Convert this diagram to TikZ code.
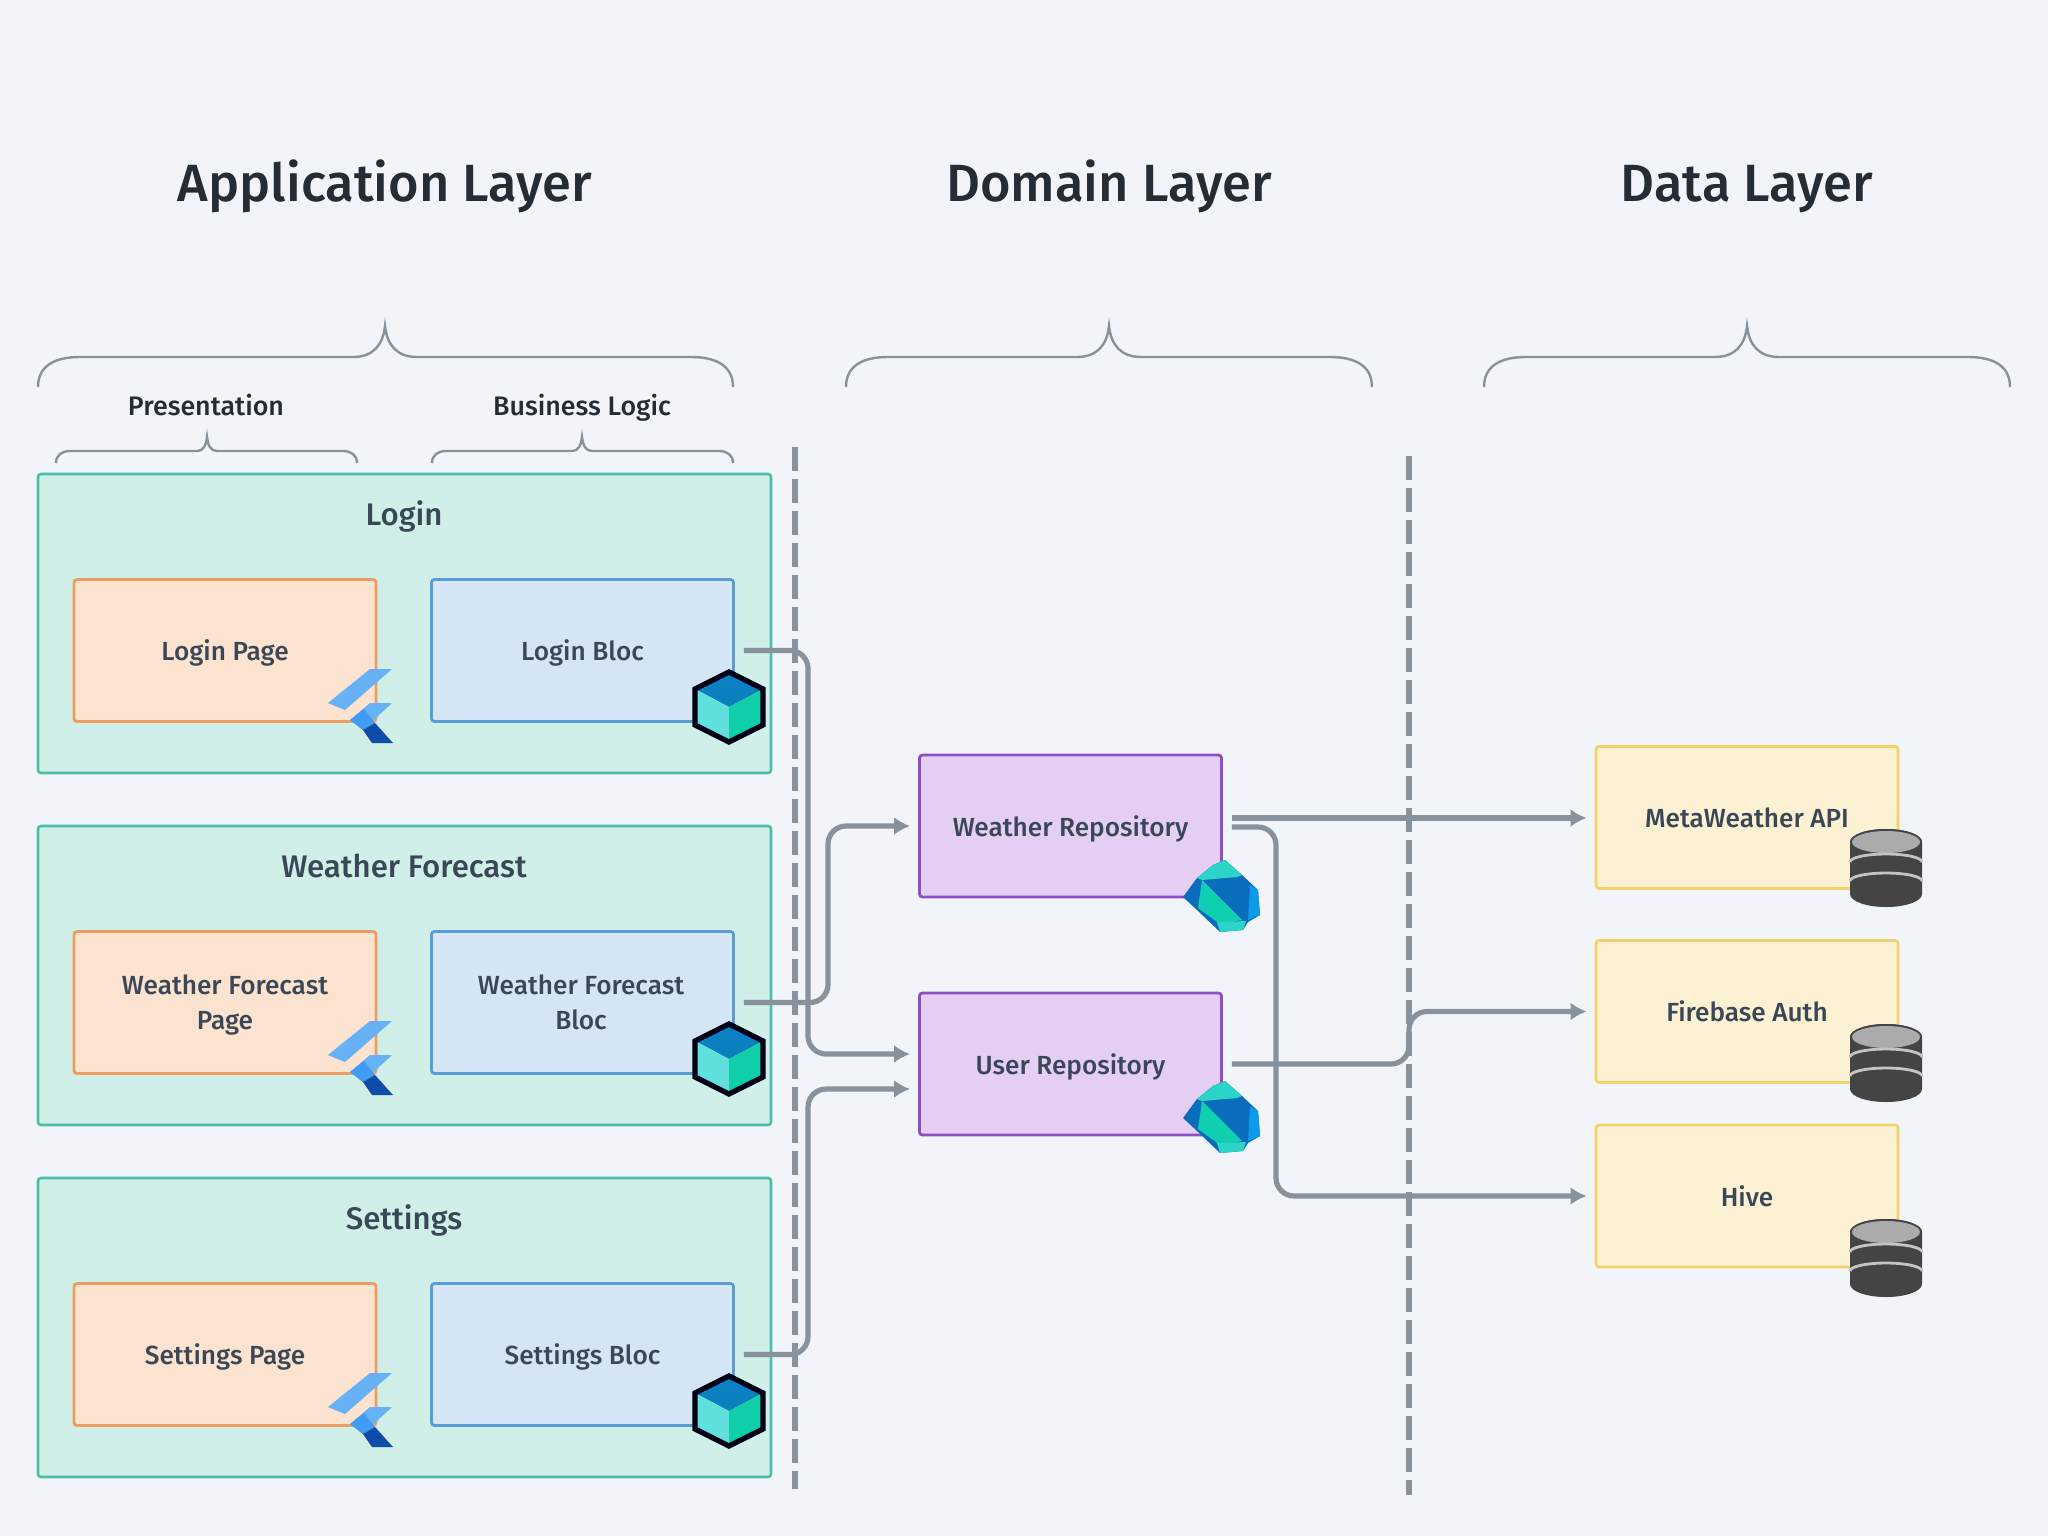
\documentclass[tikz,border=0pt]{standalone}
\usepackage{fontspec}
\setmainfont{Fira Sans Medium}
\usetikzlibrary{arrows.meta,calc}
\definecolor{bg}{HTML}{F1F5F9}
\definecolor{teal}{HTML}{CFEFE8}
\definecolor{tealb}{HTML}{4DBDA9}
\definecolor{orf}{HTML}{FCE3CF}
\definecolor{orb}{HTML}{EE9C5F}
\definecolor{blf}{HTML}{D4E5F4}
\definecolor{blb}{HTML}{5B9BD5}
\definecolor{puf}{HTML}{E5CEF3}
\definecolor{pub}{HTML}{8E4EC6}
\definecolor{yef}{HTML}{FDF1D3}
\definecolor{yeb}{HTML}{F2D36B}
\definecolor{conn}{HTML}{87929D}
\definecolor{ink}{HTML}{3A4756}
\definecolor{headc}{HTML}{242C36}
\definecolor{FL}{HTML}{66B2F5}
\definecolor{FM}{HTML}{3F9CF0}
\definecolor{FD}{HTML}{0F4BA8}
\definecolor{CT}{HTML}{0A80C0}
\definecolor{CL}{HTML}{5FE0DC}
\definecolor{CR}{HTML}{10CFA8}
\definecolor{DD}{HTML}{0A6CBC}
\definecolor{DT}{HTML}{2AD4C6}
\definecolor{DB}{HTML}{0C9BE8}
\definecolor{DG}{HTML}{10CFB0}
\definecolor{DK}{HTML}{444444}
\definecolor{DG2}{HTML}{ABABAB}
\definecolor{DL}{HTML}{C4C4C4}
\tikzset{
  x=0.5pt,y=-0.5pt,
  sturdy/.style={execute at begin node=\strut,execute at end node=\strut},
  boxfont/.style={align=center,text=ink,font=\fontsize{13.1}{17.6}\selectfont},
  box/.style={execute at begin node={\rule{0pt}{15.6pt}},execute at end node=\strut,draw,line width=1.4pt,rounded corners=1.5pt,minimum width=151pt,minimum height=71pt,inner sep=0pt,boxfont},
  twolines/.style={sturdy,inner sep=0pt,boxfont},
  lay/.style={draw=tealb,fill=teal,line width=1.3pt,rounded corners=1.5pt,minimum width=366.5pt,minimum height=149.5pt},
  page/.style={box,draw=orb,fill=orf},
  bloc/.style={box,draw=blb,fill=blf},
  repo/.style={box,draw=pub,fill=puf},
  src/.style={box,draw=yeb,fill=yef},
  headt/.style={sturdy,text=headc,font=\fontsize{26.2}{30}\selectfont},
  sub/.style={sturdy,text=headc,font=\fontsize{13.4}{16}\selectfont},
  ttl/.style={sturdy,text=ink,font=\fontsize{15.6}{18}\selectfont},
  brace/.style={draw=conn,line width=1.2pt},
  wire/.style={draw=conn,line width=2.6pt,rounded corners=9pt,-{Latex[length=8pt,width=9pt]}},
  sep/.style={draw=conn,line width=2.8pt,dash pattern=on 12pt off 4pt},
  flutter/.pic={
    \fill[FL] (-48,-18)--(-6,-52)--(16,-52)--(-31,-11)--cycle;
    \fill[FL] (-26,-1)--(-6,-18)--(16,-18)--(-13,9)--cycle;
    \fill[FM] (-26,-1)--(-12,-12)--(-1,2)--(-13,9)--cycle;
    \fill[FD] (-13,9)--(-1,2)--(17,22)--(-4,22)--cycle;
  },
  cube/.pic={
    \fill[CT] (0,0)--(-34,-18)--(0,-35)--(34,-18)--cycle;
    \fill[CL] (0,0)--(-34,-18)--(-34,18)--(0,35)--cycle;
    \fill[CR] (0,0)--(34,-18)--(34,18)--(0,35)--cycle;
    \draw[black!92!blue,line width=2.6pt,line join=miter] (0,-35)--(34,-18)--(34,18)--(0,35)--(-34,18)--(-34,-18)--cycle;
  },
  dart/.pic={
    \fill[DD] (3,-37)--(20,-22)--(36,-7)--(38,18)--(26,25)--(21,33)--(-2,35)--(-25,13)--(-39,0)--(-25,-19)--(-9,-32)--cycle;
    \fill[DT] (-9,-32)--(3,-37)--(20,-22)--(15,-20)--(-20,-17)--(-25,-19)--cycle;
    \fill[DB] (28,-12)--(36,-7)--(38,18)--(26,23)--cycle;
    \fill[DG] (-20,-17)--(20,23)--(-2,27)--(-24,11)--cycle;
    \fill[DT] (-5,25)--(24,24)--(21,33)--(-2,35)--cycle;
  },
  db/.pic={
    \fill[DK] (-36,14) arc[x radius=36,y radius=13,start angle=180,end angle=360]
      -- (36,66) arc[x radius=36,y radius=13,start angle=0,end angle=180]--cycle;
    \fill[DK] (0,14) ellipse[x radius=36,y radius=13];
    \fill[DG2] (0,14) ellipse[x radius=34,y radius=11];
    \draw[DL,line width=1.4pt] (-36,34) arc[x radius=36,y radius=8,start angle=180,end angle=360];
    \draw[DL,line width=1.4pt] (-36,53) arc[x radius=36,y radius=8,start angle=180,end angle=360];
  },
}
\begin{document}
\begin{tikzpicture}
\useasboundingbox[fill=bg] (0,0) rectangle (2048,1536);
% headings
\node[headt] (h1) at (385,189) {Application Layer};
\node[headt] (h2) at (1109,189) {Domain Layer};
\node[headt] (h3) at (1747,189) {Data Layer};
% braces
\newcommand{\bigbrace}[3]{\draw[brace] (#1,387) .. controls (#1,365) and (#1+18,357) .. (#1+42,357) -- (#2-32,357) .. controls (#2-12,357) and (#2-2,345) .. (#2,326) .. controls (#2+2,345) and (#2+12,357) .. (#2+32,357) -- (#3-42,357) .. controls (#3-18,357) and (#3,365) .. (#3,387);}
\newcommand{\smallbrace}[3]{\draw[brace] (#1,463) .. controls (#1,455) and (#1+6,451) .. (#1+14,451) -- (#2-10,451) .. controls (#2-4,451) and (#2-1,446) .. (#2,437) .. controls (#2+1,446) and (#2+4,451) .. (#2+10,451) -- (#3-14,451) .. controls (#3-6,451) and (#3,455) .. (#3,463);}
\bigbrace{38}{385}{733}
\bigbrace{846}{1109}{1372}
\bigbrace{1484}{1747}{2010}
\smallbrace{56}{207}{357}
\smallbrace{432}{582}{733}
\node[sub] (t1) at (206,409) {Presentation};
\node[sub] (t2) at (582,409) {Business Logic};
% layers
\node[lay] (l1) at (404.5,623.5) {};
\node[lay] (l2) at (404.5,975.5) {};
\node[lay] (l3) at (404.5,1327.5) {};
\node[ttl] (lt1) at (404,518) {Login};
\node[ttl] (lt2) at (404,870) {Weather Forecast};
\node[ttl] (lt3) at (404,1222) {Settings};
% boxes
\node[page] (lp) at (225,650.5) {Login Page};
\node[bloc] (lb) at (582.5,650.5) {Login Bloc};
\node[page] (wp) at (225,1002.5) {};
\node[twolines] (wpt) at (225,1007.5) {Weather Forecast\\Page};
\node[bloc] (wb) at (582.5,1002.5) {};
\node[twolines] (wbt) at (581,1007.5) {Weather Forecast\\Bloc};
\node[page] (sp) at (225,1354.5) {Settings Page};
\node[bloc] (sb) at (582.5,1354.5) {Settings Bloc};
\node[repo] (wr) at (1070.5,826) {Weather Repository};
\node[repo] (ur) at (1070.5,1064) {User Repository};
\node[src] (ma) at (1747,817.5) {MetaWeather API};
\node[src] (fa) at (1747,1011.5) {Firebase Auth};
\node[src] (hi) at (1747,1196) {Hive};
% separators
\draw[sep] (795,447) -- (795,1489);
\draw[sep] (1409,456) -- (1409,1495);
% connectors
\coordinate (lbo) at ($(lb.east)+(9,0)$);
\coordinate (wbo) at ($(wb.east)+(9,0)$);
\coordinate (sbo) at ($(sb.east)+(9,0)$);
\coordinate (wri) at ($(wr.west)+(-8,0)$);
\coordinate (uri1) at ($(ur.west)+(-8,-10)$);
\coordinate (uri2) at ($(ur.west)+(-8,25)$);
\coordinate (wro1) at ($(wr.east)+(9,-8)$);
\coordinate (wro2) at ($(wr.east)+(9,1)$);
\coordinate (uro) at ($(ur.east)+(9,0)$);
\coordinate (mai) at ($(ma.west)+(-8,0)$);
\coordinate (fai) at ($(fa.west)+(-8,0)$);
\coordinate (hii) at ($(hi.west)+(-8,0)$);
\draw[wire] (lbo) -- (808,0 |- lbo) -- (808,0 |- uri1) -- (uri1);
\draw[wire] (wbo) -- (828,0 |- wbo) -- (828,0 |- wri) -- (wri);
\draw[wire] (sbo) -- (808,0 |- sbo) -- (808,0 |- uri2) -- (uri2);
\draw[wire] (wro1) -- (wro1 -| mai);
\draw[wire] (wro2) -- (1276,0 |- wro2) -- (1276,0 |- hii) -- (hii);
\draw[wire] (uro) -- (1409,0 |- uro) -- (1409,0 |- fai) -- (fai);
% icons
\pic at (376,721) {flutter};
\pic at (376,1073) {flutter};
\pic at (376,1425) {flutter};
\pic at (729,707) {cube};
\pic at (729,1059) {cube};
\pic at (729,1411) {cube};
\pic at (1222,897) {dart};
\pic at (1222,1118) {dart};
\pic at (1886,828) {db};
\pic at (1886,1023) {db};
\pic at (1886,1218) {db};
\end{tikzpicture}
\end{document}
